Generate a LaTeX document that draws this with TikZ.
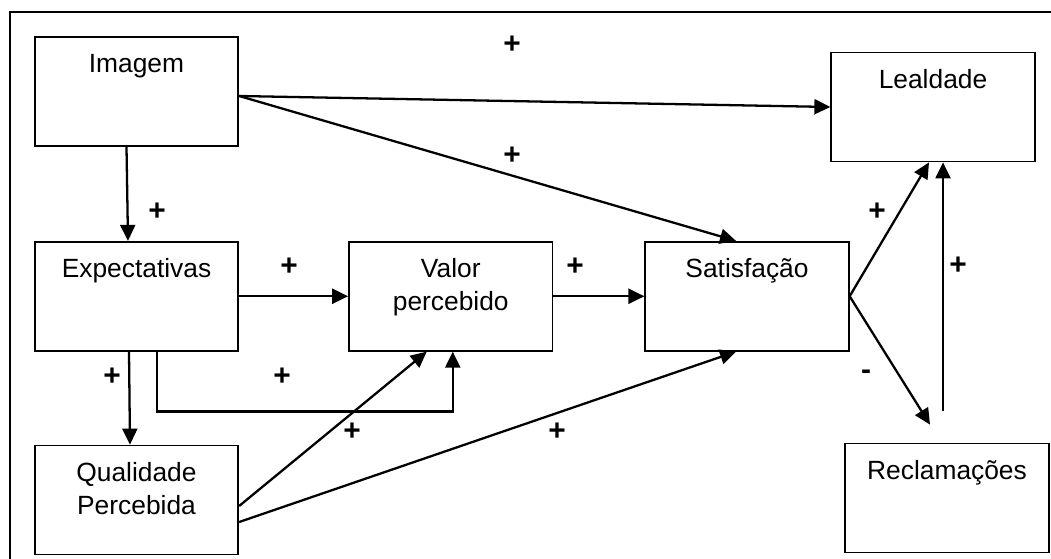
\documentclass[tikz,border=0pt]{standalone}
\usepackage{fontspec}
\setmainfont{Liberation Sans}
\usetikzlibrary{arrows.meta,positioning}

\begin{document}
\begin{tikzpicture}[
    font=\fontsize{15}{18.7}\selectfont,
    >={Triangle[length=3.2mm,width=3mm]},
    % --- node styles ---
    box/.style = {rectangle, draw=black, line width=1pt,
                  minimum width=4.07cm, minimum height=2.18cm,
                  inner sep=0pt, align=center,
                  text height=0.72cm, text depth=1.46cm},
    box2/.style = {box, text height=1.38cm, text depth=0.80cm},
    arrow/.style   = {->, line width=1.3pt},
    signlbl/.style = {font=\fontsize{17}{20}\selectfont\bfseries, inner sep=0pt},
]

\useasboundingbox (0,0) rectangle (21.02,-11.18);

% outer frame (left and top edges)
\draw[line width=1.2pt] (0.2,-11.18) |- (21.02,-0.24);

%============ BOXES ============
\node (img) [box] at (2.73,-1.83) {Imagem};
\node (exp) [box, below=1.88cm of img] {Expectativas};
\node (qual) [box2, below=1.86cm of exp] {Qualidade\\Percebida};
\node (val) [box2, right=2.18cm of exp] {Valor\\percebido};
\node (sat) [box, right=1.82cm of val] {Satisfação};
\node (leal) [box] at (18.66,-2.14) {Lealdade};
\node (recl) [box] at (18.94,-9.96) {Reclamações};

% free ends near Reclamações
\coordinate (tip)  at ([xshift=-0.34cm,yshift=0.36cm]recl.north);
\coordinate (base) at ([xshift=-0.08cm,yshift=0.64cm]recl.north);

%============ ARROWS ============
\draw[arrow] ([yshift=-0.09cm]img.east) -- (leal.west);
\draw[arrow] ([yshift=-0.09cm]img.east) -- ([xshift=-0.22cm]sat.north);
\draw[arrow] ([xshift=-0.2cm]img.south) -- ([xshift=-0.17cm]exp.north);
\draw[arrow] (exp) -- (val);
\draw[arrow] (val) -- (sat);
\draw[arrow] ([xshift=-0.15cm]exp.south) -- ([xshift=-0.13cm]qual.north);
\draw[arrow] ([xshift=0.41cm]exp.south) |- ([xshift=0.04cm,yshift=-1.2cm]val.south)
  -- ([xshift=0.04cm]val.south);
\draw[arrow] ([yshift=-0.12cm]qual.east) -- ([xshift=-0.48cm]val.south);
\draw[arrow] ([yshift=-0.44cm]qual.east) -- ([xshift=-0.22cm]sat.south);
\draw[arrow] (sat.east) -- ([xshift=-0.08cm]leal.south);
\draw[arrow] (sat.east) -- (tip);
\draw[arrow] (base) -- (base |- leal.south);

%============ SIGNS ============
\node (s1)  [signlbl] at (10.24,-0.90) {+};
\node (s2)  [signlbl] at (10.24,-3.12) {+};
\node (s3)  [signlbl] at (3.14,-4.24)  {+};
\node (s4)  [signlbl] at (5.78,-5.34)  {+};
\node (s5)  [signlbl] at (11.50,-5.34) {+};
\node (s6)  [signlbl] at (17.54,-4.24) {+};
\node (s7)  [signlbl] at (19.16,-5.32) {+};
\node (s8)  [signlbl] at (2.24,-7.54)  {+};
\node (s9)  [signlbl] at (5.64,-7.54)  {+};
\node (s10) [signlbl] at (17.32,-7.50) {-};
\node (s11) [signlbl] at (7.04,-8.64)  {+};
\node (s12) [signlbl] at (11.14,-8.64) {+};

\end{tikzpicture}
\end{document}
